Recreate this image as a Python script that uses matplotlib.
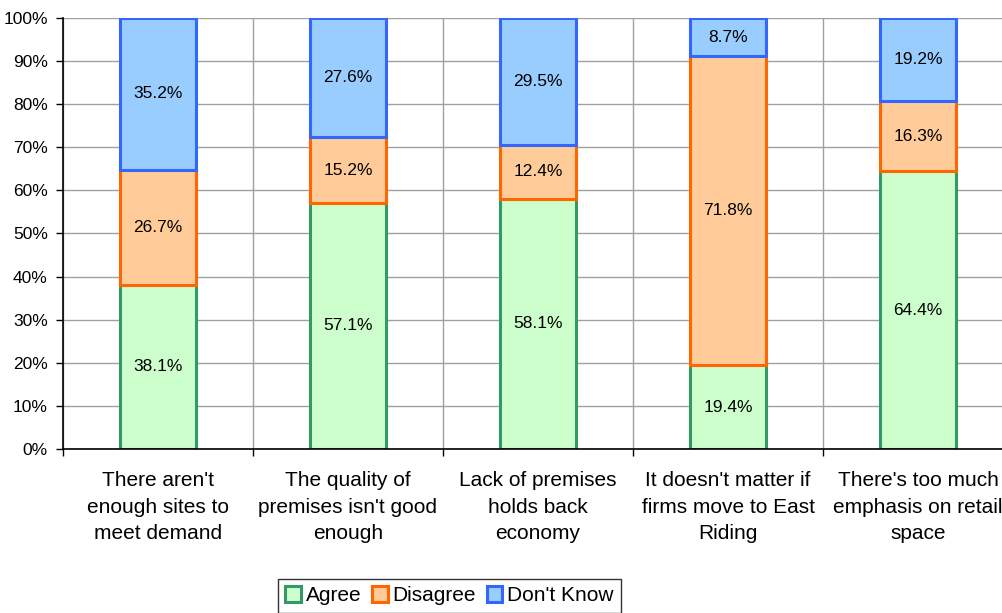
import matplotlib.pyplot as plt
from matplotlib.ticker import FixedLocator, PercentFormatter

plt.rcParams['font.family'] = ['Liberation Sans', 'DejaVu Sans']

# 回答カテゴリ
categories = [
    "There aren't\nenough sites to\nmeet demand",
    "The quality of\npremises isn't good\nenough",
    "Lack of premises\nholds back\neconomy",
    "It doesn't matter if\nfirms move to East\nRiding",
    "There's too much\nemphasis on retail\nspace",
]
agree = [38.1, 57.1, 58.1, 19.4, 64.4]
disagree = [26.7, 15.2, 12.4, 71.8, 16.3]
dont_know = [35.2, 27.6, 29.5, 8.7, 19.2]

series_names = ['Agree', 'Disagree', "Don't Know"]
face_colors = ['#CCFFCC', '#FFCC99', '#99CCFF']
edge_colors = ['#339966', '#FF6600', '#3366FF']

fig = plt.figure(figsize=(10.03, 6.13), dpi=100)
# 右端はカテゴリ幅いっぱいまで（画像端で切れる）
ax = fig.add_axes([63 / 1003, 1 - 449 / 613, 950 / 1003, (449 - 18) / 613])

x = list(range(len(categories)))
bottom = [0.0] * len(categories)
for name, values, fc, ec in zip(series_names, [agree, disagree, dont_know], face_colors, edge_colors):
    ax.bar(x, values, width=0.4, bottom=bottom, color=fc, edgecolor=ec,
           linewidth=2.2, label=name, zorder=3)
    # 値ラベル（各区間の中央）
    for xi, b, v in zip(x, bottom, values):
        ax.text(xi, b + v / 2, f"{v:.1f}%", ha='center', va='center', fontsize=12.5, zorder=4)
    bottom = [b + v for b, v in zip(bottom, values)]

ax.set_xlim(-0.5, len(categories) - 0.5)
ax.set_ylim(0, 100)

# y軸
ax.set_yticks(range(0, 101, 10))
ax.yaxis.set_major_formatter(PercentFormatter(decimals=0))
ax.tick_params(axis='y', direction='out', length=5, width=1, pad=6, labelsize=12.5)

# x軸: 目盛りは区切り位置、ラベルはカテゴリ中央
ax.xaxis.set_major_locator(FixedLocator([i + 0.5 for i in range(-1, len(categories))]))
ax.xaxis.set_minor_locator(FixedLocator(x))
ax.set_xticklabels([])
ax.set_xticklabels(categories, minor=True, fontsize=15, linespacing=1.5)
ax.tick_params(axis='x', which='major', direction='out', length=5, width=1)
ax.tick_params(axis='x', which='minor', length=0, pad=16)

# 罫線
ax.grid(True, which='major', axis='both', color='#a0a0a0', linewidth=1, zorder=0)
ax.set_axisbelow(True)
for side in ['top', 'right']:
    ax.spines[side].set_visible(False)
ax.spines['left'].set_linewidth(1.2)
ax.spines['bottom'].set_linewidth(1.2)
ax.spines['left'].set_zorder(5)
ax.spines['bottom'].set_zorder(5)

leg = fig.legend(loc='upper center', bbox_to_anchor=(449.5 / 1003, 1 - 579 / 613), ncol=3,
                 fontsize=15, frameon=True, fancybox=False, edgecolor='black',
                 handlelength=0.75, handleheight=0.75, handletextpad=0.25,
                 columnspacing=0.5, borderpad=0.35, borderaxespad=0)
leg.get_frame().set_linewidth(1)

fig.savefig('out.png', dpi=100)
